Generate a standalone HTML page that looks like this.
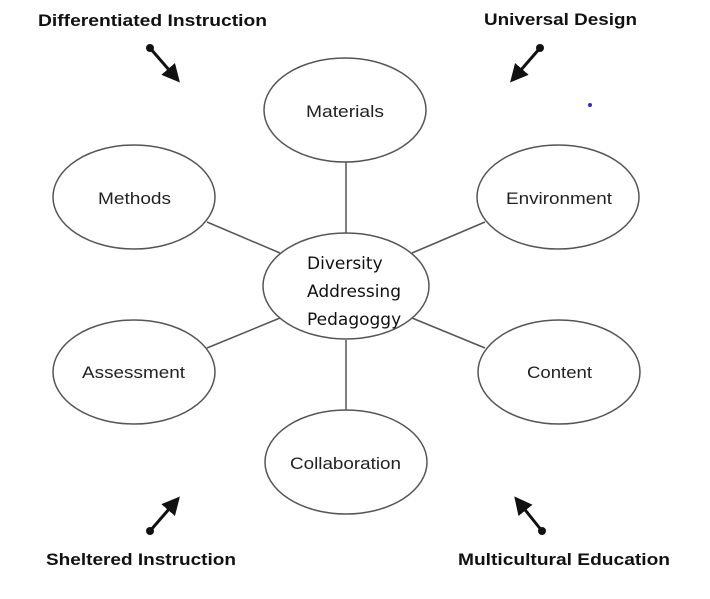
<!DOCTYPE html>
<html><head><style>
body{margin:0;background:#fff;}
svg{display:block;}
.b{font-family:"Liberation Sans",sans-serif;font-weight:bold;font-size:17px;fill:#111;}
.n{font-family:"Liberation Sans",sans-serif;font-size:17px;fill:#222;}
.c{font-family:"DejaVu Sans","Liberation Sans",sans-serif;font-size:17px;fill:#111;}
</style></head><body>
<svg width="710" height="599" viewBox="0 0 710 599">
<defs><marker id="ah" markerWidth="6" markerHeight="6" refX="4" refY="3" orient="auto" markerUnits="strokeWidth"><path d="M0,0 L6,3 L0,6 Z" fill="#111"/></marker></defs>
<g stroke="#555" stroke-width="1.5">
<line x1="346" y1="162" x2="346" y2="233"/>
<line x1="346" y1="340" x2="346" y2="410"/>
<line x1="207" y1="222" x2="280" y2="253"/>
<line x1="485" y1="222" x2="412" y2="253"/>
<line x1="207" y1="348" x2="280" y2="318"/>
<line x1="485" y1="348" x2="412" y2="318"/>
</g>
<g fill="#fff" stroke="#555" stroke-width="1.5">
<ellipse cx="345" cy="110" rx="81" ry="52"/>
<ellipse cx="134" cy="197" rx="81" ry="52"/>
<ellipse cx="558" cy="197" rx="81" ry="52"/>
<ellipse cx="346" cy="286" rx="83" ry="53"/>
<ellipse cx="134" cy="372" rx="81" ry="52"/>
<ellipse cx="559" cy="372" rx="81" ry="52"/>
<ellipse cx="346" cy="462" rx="81" ry="52"/>
</g>
<g class="n">
<text x="306" y="117" textLength="78" lengthAdjust="spacingAndGlyphs">Materials</text>
<text x="98" y="204" textLength="73" lengthAdjust="spacingAndGlyphs">Methods</text>
<text x="506" y="204" textLength="106" lengthAdjust="spacingAndGlyphs">Environment</text>
<text x="82" y="378" textLength="103" lengthAdjust="spacingAndGlyphs">Assessment</text>
<text x="527" y="378" textLength="65" lengthAdjust="spacingAndGlyphs">Content</text>
<text x="290" y="469" textLength="111" lengthAdjust="spacingAndGlyphs">Collaboration</text>
</g>
<g class="c">
<text x="307" y="269">Diversity</text>
<text x="307" y="297">Addressing</text>
<text x="307" y="325">Pedagoggy</text>
</g>
<g class="b">
<text x="38" y="26" textLength="229" lengthAdjust="spacingAndGlyphs">Differentiated Instruction</text>
<text x="484" y="25" textLength="153" lengthAdjust="spacingAndGlyphs">Universal Design</text>
<text x="46" y="565" textLength="190" lengthAdjust="spacingAndGlyphs">Sheltered Instruction</text>
<text x="458" y="565" textLength="212" lengthAdjust="spacingAndGlyphs">Multicultural Education</text>
</g>
<g stroke="#111" stroke-width="3" marker-end="url(#ah)">
<line x1="150" y1="48" x2="176" y2="78"/>
<line x1="540" y1="48" x2="514" y2="78"/>
<line x1="150" y1="531" x2="176" y2="501"/>
<line x1="542" y1="531" x2="518" y2="501"/>
</g>
<g fill="#111">
<circle cx="150" cy="48" r="4"/><circle cx="540" cy="48" r="4"/>
<circle cx="150" cy="531" r="4"/><circle cx="542" cy="531" r="4"/>
</g>
<circle cx="590" cy="105" r="2" fill="#2233cc"/>
</svg>
</body></html>
